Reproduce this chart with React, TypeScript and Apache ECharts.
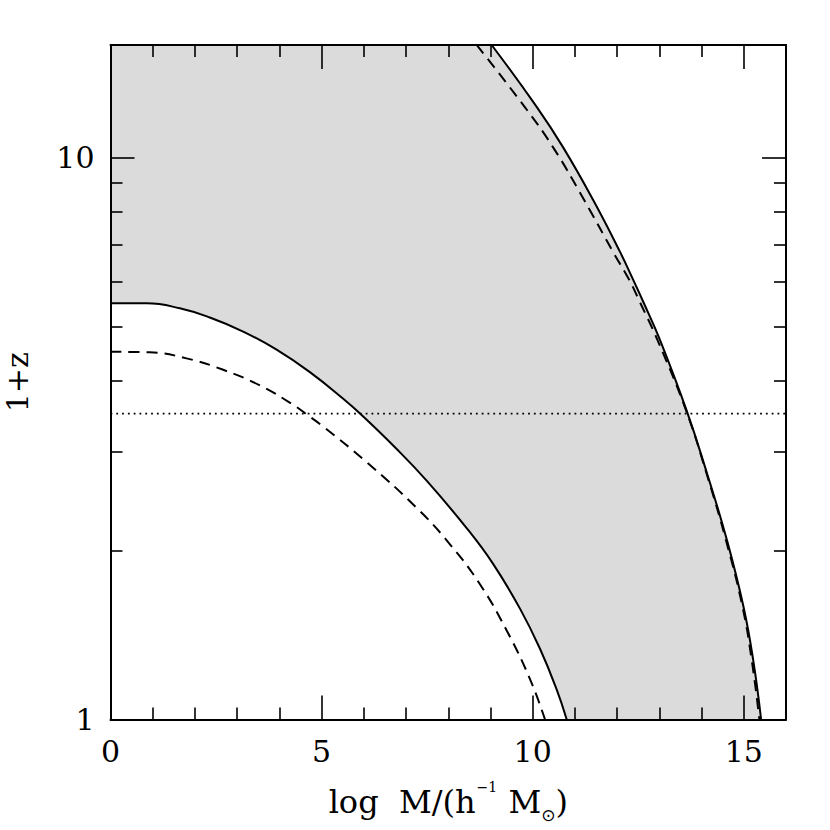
import React, { useEffect, useRef } from "react";
import * as echarts from "echarts";

const FONT = "DejaVu Serif";

// axis extents
const X_MIN = 0;
const X_MAX = 16;
const Y_MIN = 1;
const Y_MAX = Math.pow(10, 1.2);

// tick values
const xMajorTicks = [0, 5, 10, 15];
const xMinorTicks = [1, 2, 3, 4, 6, 7, 8, 9, 11, 12, 13, 14];
const yMajorTicks = [1, 10];
const yMinorTicks = [2, 3, 4, 5, 6, 7, 8, 9];

// curves: [log M, 1+z]
const lowerSolid: [number, number][] = [
  [0, 5.5], [0.853, 5.5], [1.642, 5.39], [2.353, 5.19], [3.142, 4.9], [3.934, 4.55],
  [4.723, 4.15], [5.512, 3.72], [5.986, 3.46], [6.737, 3.05], [7.488, 2.66], [8.436, 2.19],
  [9.066, 1.89], [9.699, 1.575], [10.173, 1.336], [10.569, 1.13], [10.806, 1.0],
];
const lowerDashed: [number, number][] = [
  [0, 4.51], [0.931, 4.5], [1.801, 4.39], [2.668, 4.19], [3.538, 3.93], [4.327, 3.63],
  [4.645, 3.49], [5.038, 3.32], [6.066, 2.87], [7.251, 2.38], [8.04, 2.05], [8.751, 1.74],
  [9.384, 1.44], [9.936, 1.18], [10.292, 1.0],
];
const upperSolid: [number, number][] = [
  [9.028, 15.85], [10.095, 12.3], [10.725, 10.41], [11.436, 8.39], [12.069, 6.79],
  [12.384, 6.05], [12.621, 5.53], [13.017, 4.73], [13.649, 3.54], [14.123, 2.75],
  [14.597, 2.09], [14.991, 1.59], [15.227, 1.27], [15.41, 1.0],
];
const upperDashed: [number, number][] = [
  [8.673, 15.85], [9.81, 12.3], [10.488, 10.41], [11.223, 8.39], [11.903, 6.79],
  [12.289, 6.05], [12.538, 5.53], [12.957, 4.73], [13.637, 3.54], [14.111, 2.75],
  [14.573, 2.09], [14.967, 1.59], [15.192, 1.27], [15.37, 1.0],
];
const dottedLevel = 3.5;

const BLACK = "#000";
const GRAY = "#dbdbdb";

export default function App() {
  const ref = useRef<HTMLDivElement>(null);
  useEffect(() => {
    if (!ref.current) return;
    const chart = echarts.init(ref.current, null, { renderer: "svg" });

    const tickStyle = { color: BLACK, width: 1.6 };
    const lineStyleAxis = { color: BLACK, width: 2 };

    const xAx = (position: string, ticks: number[], len: number, main: boolean, extra: any = {}) => ({
      type: "value",
      position,
      min: X_MIN,
      max: X_MAX,
      z: 10,
      axisLine: { show: main, onZero: false, lineStyle: lineStyleAxis },
      axisTick: { show: true, inside: true, length: len, lineStyle: tickStyle, customValues: ticks },
      axisLabel: { show: false },
      splitLine: { show: false },
      ...extra,
    });
    const yAx = (position: string, ticks: number[], len: number, main: boolean, extra: any = {}) => ({
      type: "log",
      logBase: 10,
      position,
      min: Y_MIN,
      max: Y_MAX,
      z: 10,
      axisLine: { show: main, onZero: false, lineStyle: lineStyleAxis },
      axisTick: { show: true, inside: true, length: len, lineStyle: tickStyle, customValues: ticks },
      axisLabel: { show: false },
      splitLine: { show: false },
      ...extra,
    });

    const curve = (data: [number, number][], extra: any = {}) => ({
      type: "line",
      data,
      symbol: "none",
      smooth: 0.45,
      lineStyle: { color: BLACK, width: 2 },
      ...extra,
    });

    const option: any = {
      animation: false,
      backgroundColor: "#fff",
      grid: { left: 110.5, right: 44, top: 45, bottom: 110.5, containLabel: false, outerBoundsMode: "none" },
      xAxis: [
        xAx("bottom", xMajorTicks, 24, true, {
          axisLabel: {
            show: true,
            customValues: xMajorTicks,
            fontSize: 30,
            fontFamily: FONT,
            color: BLACK,
            margin: 17,
          },
          name: "{a|log  M/(h}{sup|−1}{a| M}{sub|⊙}{a|)}",
          nameLocation: "middle",
          nameGap: 60,
          nameTextStyle: {
            fontFamily: FONT,
            fontSize: 32,
            color: BLACK,
            rich: {
              a: { fontFamily: FONT, fontSize: 32, color: BLACK, lineHeight: 44, verticalAlign: "middle" },
              sup: { fontFamily: FONT, fontSize: 14, color: BLACK, lineHeight: 32, verticalAlign: "top", padding: [0, 1, 0, 1] },
              sub: { fontFamily: "DejaVu Sans", fontSize: 17, color: BLACK, lineHeight: 8, verticalAlign: "bottom" },
            },
          },
        }),
        xAx("bottom", xMinorTicks, 12, false),
        xAx("top", xMajorTicks, 24, true),
        xAx("top", xMinorTicks, 12, false),
      ],
      yAxis: [
        yAx("left", yMajorTicks, 24, true, {
          axisLabel: {
            show: true,
            customValues: yMajorTicks,
            fontSize: 30,
            fontFamily: FONT,
            color: BLACK,
            margin: 16,
            formatter: (v: number) => String(Math.round(v)),
          },
          name: "1+z",
          nameLocation: "middle",
          nameGap: 78,
          nameRotate: 90,
          nameTextStyle: { fontFamily: FONT, fontSize: 30, color: BLACK },
        }),
        yAx("left", yMinorTicks, 12, false),
        yAx("right", yMajorTicks, 24, true),
        yAx("right", yMinorTicks, 12, false),
      ],
      series: [
        {
          // grey band: everything left of the upper solid curve
          type: "line",
          data: [[X_MIN, Y_MAX], ...upperSolid],
          symbol: "none",
          smooth: false,
          lineStyle: { width: 0 },
          areaStyle: { color: GRAY, opacity: 1, origin: "start" },
          z: 1,
          silent: true,
        },
        curve(upperSolid, { z: 2 }),
        curve(lowerSolid, { areaStyle: { color: "#fff", opacity: 1, origin: "start" }, z: 2 }),
        curve(lowerDashed, { lineStyle: { color: BLACK, width: 2, type: [11, 7] }, z: 3 }),
        curve(upperDashed, { lineStyle: { color: BLACK, width: 2, type: [11, 7] }, z: 3 }),
        {
          type: "line",
          data: [[X_MIN, dottedLevel], [X_MAX, dottedLevel]],
          symbol: "none",
          lineStyle: { color: BLACK, width: 1.8, type: [1.8, 4] },
          z: 3,
        },
      ],
    };
    chart.setOption(option);
    return () => chart.dispose();
  }, []);
  return (
    <div
      ref={ref}
      style={{ position: "fixed", left: 0, top: 0, width: 830, height: 830, background: "#fff" }}
    />
  );
}
